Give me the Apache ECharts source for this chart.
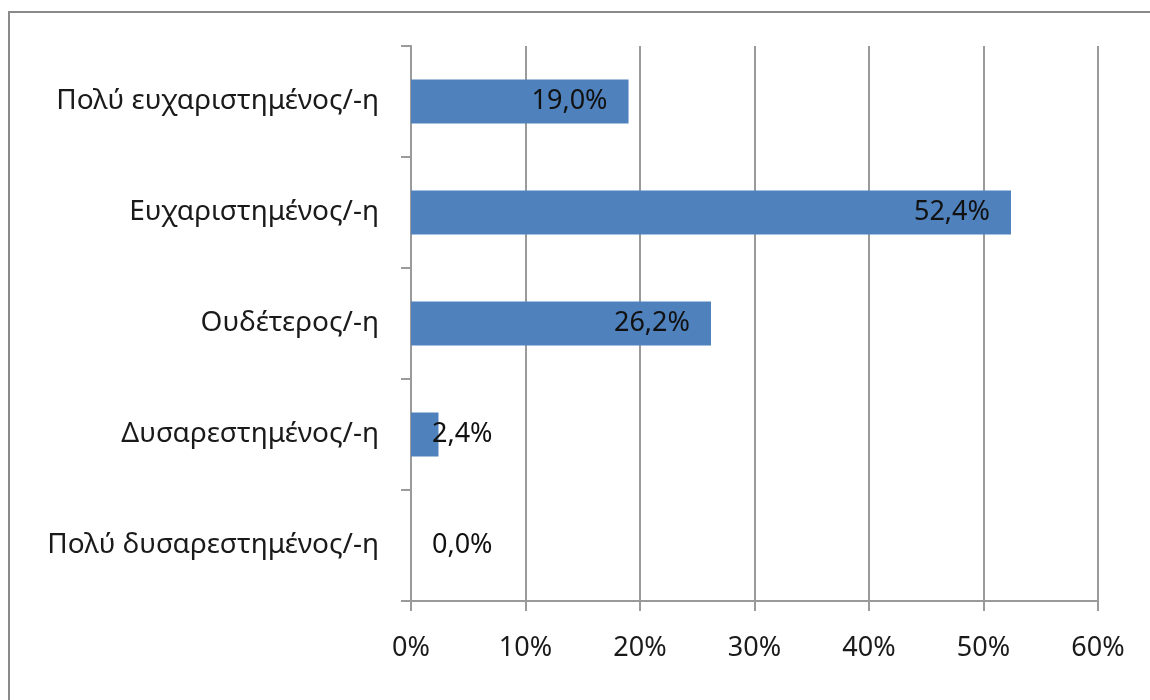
<!DOCTYPE html>
<html>
<head>
<meta charset="utf-8">
<script src="https://cdn.jsdelivr.net/npm/echarts@6/dist/echarts.min.js"></script>
<style>
  html, body { margin: 0; padding: 0; background: #fff; }
  #chart { width: 1150px; height: 700px; }
</style>
</head>
<body>
<div id="chart"></div>
<script>
// Satisfaction levels (top to bottom) and their share of responses in percent
const categories = [
  'Πολύ ευχαριστημένος/-η',
  'Ευχαριστημένος/-η',
  'Ουδέτερος/-η',
  'Δυσαρεστημένος/-η',
  'Πολύ δυσαρεστημένος/-η'
];
const shares = [19.0, 52.4, 26.2, 2.4, 0.0];
const axisMax = 60;
const axisStep = 10;

const FONT = '"Noto Sans", sans-serif';
const FONT_SIZE = 27;
const LINE = '#9a9a9a';

// Short bars get their label just right of the axis instead of inside the bar end
const barData = shares.map(v => ({
  value: v,
  label: v < 5
    ? { position: 'insideLeft', distance: 21 }
    : { position: 'insideRight', distance: 21 }
}));

const chart = echarts.init(document.getElementById('chart'), null, { renderer: 'canvas' });
chart.setOption({
  backgroundColor: '#fff',
  animation: false,
  textStyle: { fontFamily: FONT },
  grid: { left: 411, right: 52, top: 46, bottom: 99 },
  graphic: [{
    type: 'rect',
    shape: { x: 9, y: 12, width: 1200, height: 800 },
    style: { fill: 'none', stroke: '#8a8a8a', lineWidth: 2 },
    silent: true, z: -1
  }],
  xAxis: {
    type: 'value',
    min: 0, max: axisMax, interval: axisStep,
    axisLine: { show: true, lineStyle: { color: LINE, width: 2 } },
    axisTick: { show: true, length: 10, lineStyle: { color: LINE, width: 2 } },
    splitLine: { show: true, lineStyle: { color: LINE, width: 2 } },
    axisLabel: {
      formatter: v => v + '%',
      color: '#1a1a1a', fontSize: FONT_SIZE, fontFamily: FONT, margin: 34
    }
  },
  yAxis: {
    type: 'category',
    data: categories,
    inverse: true,
    axisLine: { show: true, lineStyle: { color: LINE, width: 2 } },
    axisTick: { show: true, length: 10, lineStyle: { color: LINE, width: 2 } },
    axisLabel: { color: '#1a1a1a', fontSize: 28, fontFamily: FONT, margin: 32 }
  },
  series: [{
    type: 'bar',
    data: barData,
    barWidth: 44,
    itemStyle: { color: '#4f81bd' },
    label: {
      show: true,
      color: '#111',
      fontSize: FONT_SIZE,
      fontFamily: FONT,
      formatter: p => p.value.toFixed(1).replace('.', ',') + '%'
    }
  }]
});
</script>
</body>
</html>
